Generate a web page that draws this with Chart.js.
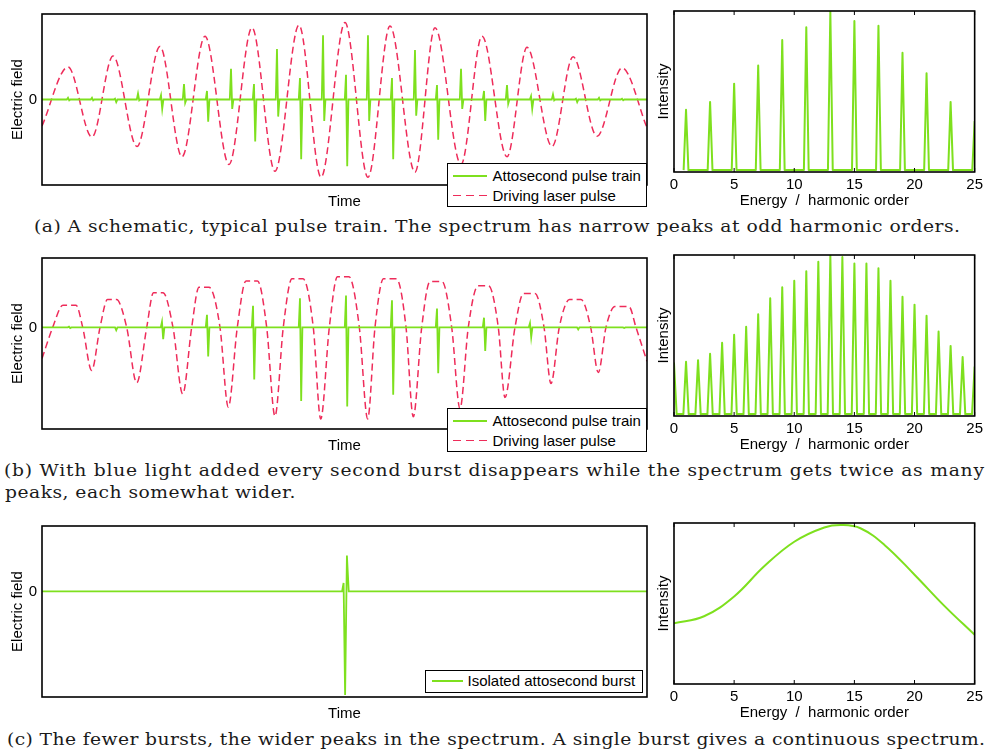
<!DOCTYPE html>
<html>
<head>
<meta charset="utf-8">
<script src="https://cdn.jsdelivr.net/npm/chart.js@4.4.1/dist/chart.umd.min.js"></script>
<style>
body { margin: 0; background: #fff; width: 987px; height: 751px; position: relative; overflow: hidden;
       font-family: "Liberation Sans", Arial, sans-serif; }
canvas { position: absolute; }
.legend { position: absolute; border: 1.5px solid #000; background: #fff; box-sizing: border-box; font-size: 15px; color: #000; }
.legend .row { position: absolute; left: 0; height: 20px; line-height: 20px; white-space: nowrap; }
.legend .smp { position: absolute; top: 9px; width: 34px; height: 2px; }
.legend .txt { position: absolute; top: 0; }
.solid { background: #7ee01e; }
.dash { background: repeating-linear-gradient(to right, #ee2c5a 0 8px, transparent 8px 13px); height: 1.5px !important; }
.cap { position: absolute; font-family: "DejaVu Serif", serif; font-size: 17px; line-height: 22px; white-space: nowrap;
       color: #1a1a1a; transform-origin: 0 50%; }
</style>
</head>
<body>
<canvas id="timeA" width="652" height="215" style="left:0;top:0"></canvas>
<canvas id="specA" width="335" height="215" style="left:652px;top:0"></canvas>
<canvas id="timeB" width="652" height="215" style="left:0;top:244px"></canvas>
<canvas id="specB" width="335" height="215" style="left:652px;top:244px"></canvas>
<canvas id="timeC" width="652" height="215" style="left:0;top:512px"></canvas>
<canvas id="specC" width="335" height="215" style="left:652px;top:512px"></canvas>

<div class="legend" style="left:447px;top:163px;width:200px;height:44px">
  <div class="row" style="top:1.5px"><div class="smp solid" style="left:4.5px"></div><span class="txt" style="left:44.5px">Attosecond pulse train</span></div>
  <div class="row" style="top:21.5px"><div class="smp dash" style="left:4.5px"></div><span class="txt" style="left:44.5px">Driving laser pulse</span></div>
</div>
<div class="legend" style="left:447px;top:408px;width:200px;height:44px">
  <div class="row" style="top:1.5px"><div class="smp solid" style="left:4.5px"></div><span class="txt" style="left:44.5px">Attosecond pulse train</span></div>
  <div class="row" style="top:21.5px"><div class="smp dash" style="left:4.5px"></div><span class="txt" style="left:44.5px">Driving laser pulse</span></div>
</div>
<div class="legend" style="left:425px;top:670px;width:218px;height:23px">
  <div class="row" style="top:0px"><div class="smp solid" style="left:5.5px;width:31px"></div><span class="txt" style="left:41.5px">Isolated attosecond burst</span></div>
</div>

<div class="cap" id="capA" style="left:34px;top:215px">(a) A schematic, typical pulse train. The spectrum has narrow peaks at odd harmonic orders.</div>
<div class="cap" id="capB1" style="left:4px;top:458.5px">(b) With blue light added every second burst disappears while the spectrum gets twice as many</div>
<div class="cap" id="capB2" style="left:5px;top:480.5px">peaks, each somewhat wider.</div>
<div class="cap" id="capC" style="left:7px;top:727.5px">(c) The fewer bursts, the wider peaks in the spectrum. A single burst gives a continuous spectrum.</div>

<script>
// time axis 0..100 (arbitrary units), field in arbitrary units
const laserA_t = [0, 4.30, 8.26, 11.74, 15.70, 19.50, 23.14, 26.94, 30.91, 34.71, 38.51, 42.48, 46.12, 50.08,
                  53.88, 57.52, 61.65, 64.96, 69.26, 72.73, 76.86, 80.17, 84.30, 87.77, 91.74, 95.87, 100];
const laserA_E = [-0.31, 0.38, -0.44, 0.51, -0.55, 0.62, -0.67, 0.74, -0.76, 0.84, -0.84, 0.87, -0.91, 0.90,
                  -0.91, 0.86, -0.85, 0.84, -0.76, 0.74, -0.67, 0.61, -0.55, 0.50, -0.43, 0.37, -0.33];

const burstA_t  = [4.30, 8.26, 12.07, 15.87, 19.67, 23.47, 27.27, 31.24, 35.04, 38.84, 42.64, 46.45, 50.25,
                   53.88, 57.85, 61.65, 65.29, 69.26, 73.06, 76.86, 80.83, 84.46, 88.26, 92.07, 95.87];
const burstA_up = [0.02, 0.02, 0.01, 0.07, 0.05, 0.18, 0.10, 0.36, 0.18, 0.59, 0.25, 0.75, 0.29,
                   0.75, 0.25, 0.58, 0.17, 0.36, 0.10, 0.17, 0.04, 0.06, 0.01, 0.02, 0.01];
const burstA_dn = [0.01, 0.01, 0.03, 0.01, 0.11, 0.04, 0.26, 0.11, 0.49, 0.20, 0.70, 0.25, 0.78,
                   0.25, 0.70, 0.19, 0.47, 0.11, 0.25, 0.05, 0.11, 0.01, 0.03, 0.01, 0.01];

const harmA = [1, 3, 5, 7, 9, 11, 13, 15, 17, 19, 21, 23, 25];
const specA = [0.38, 0.43, 0.545, 0.66, 0.82, 0.90, 1.0, 0.94, 0.91, 0.74, 0.61, 0.43, 0.31];

// two-colour field: flat-topped peaks, narrow troughs
const laserB_t = [0, 1.77, 3.47, 5.62, 6.73, 8.21, 9.59, 10.83, 12.31, 14.0, 15.65, 17.31, 18.43, 20.0,
                  21.65, 23.26, 24.74, 25.95, 27.60, 29.42, 30.79, 32.28, 33.72, 35.62, 37.14, 38.51,
                  39.88, 41.32, 43.14, 44.84, 46.07, 47.49, 48.84, 50.74, 52.45, 53.83, 55.04, 56.45,
                  58.60, 60.17, 61.37, 62.76, 64.13, 66.12, 67.72, 69.09, 70.46, 72.07, 73.80, 75.42,
                  76.53, 78.18, 79.59, 81.49, 82.98, 84.13, 85.50, 87.19, 89.09, 90.69, 91.95, 93.22,
                  94.71, 97.02, 98.18, 100];
const laserB_E = [-0.45, 0, 0.32, 0.32, 0, -0.62, 0, 0.40, 0.40, 0, -0.80, 0, 0.50, 0.50,
                  0, -0.96, 0, 0.58, 0.58, 0, -1.15, 0, 0.67, 0.67, 0, -1.28,
                  0, 0.70, 0.70, 0, -1.32, 0, 0.73, 0.73, 0, -1.32, 0, 0.70,
                  0.70, 0, -1.29, 0, 0.66, 0.66, 0, -1.17, 0, 0.60, 0.60, 0,
                  -1.01, 0, 0.49, 0.49, 0, -0.81, 0, 0.40, 0.40, 0, -0.65, 0,
                  0.30, 0.30, 0, -0.49];

const burstB_t  = [4.46, 12.07, 19.83, 27.27, 34.88, 42.64, 50.25, 57.85, 65.29, 73.06, 80.66, 88.43, 96.03];
const burstB_up = [0.01, 0.0, 0.08, 0.18, 0.31, 0.42, 0.46, 0.39, 0.27, 0.14, 0.06, 0.0, 0.0];
const burstB_dn = [0.01, 0.04, 0.17, 0.42, 0.75, 1.06, 1.14, 0.97, 0.66, 0.34, 0.14, 0.03, 0.01];

const harmB = [0, 1, 2, 3, 4, 5, 6, 7, 8, 9, 10, 11, 12, 13, 14, 15, 16, 17, 18, 19, 20, 21, 22, 23, 24, 25];
const specB = [0.32, 0.33, 0.34, 0.38, 0.45, 0.50, 0.55, 0.63, 0.73, 0.80, 0.84, 0.90, 0.96,
               1.0, 0.99, 0.95, 0.95, 0.92, 0.84, 0.74, 0.69, 0.62, 0.52, 0.43, 0.36, 0.30];

// single burst
const burstC_t = [0, 49.6, 49.85, 50.1, 50.4, 50.7, 100];
const burstC_E = [0, 0, 0.13, -1.58, 0.55, 0, 0];

// continuous spectrum of the single burst
const specC_h = [0, 2.5, 5, 7.5, 10, 12.5, 14, 15.5, 17.5, 20, 22.5, 25];
const specC_I = [0.371, 0.415, 0.54, 0.73, 0.885, 0.975, 0.99, 0.97, 0.865, 0.677, 0.479, 0.298];

const GREEN = '#7ee01e';
const RED = '#ee2c5a';
const SANS = '"Liberation Sans", Arial, sans-serif';

function xy(xs, ys) {
    return xs.map((x, i) => ({ x: x, y: ys[i] }));
}

function burstPoints(times, up, dn, w) {
    const pts = [{ x: 0, y: 0 }];
    times.forEach((t, i) => {
        pts.push({ x: t - w, y: 0 }, { x: t, y: up[i] }, { x: t + w, y: -dn[i] }, { x: t + 2 * w, y: 0 });
    });
    pts.push({ x: 100, y: 0 });
    return pts;
}

function peakPoints(orders, heights, w) {
    const pts = [];
    orders.forEach((h, i) => {
        pts.push({ x: h - w, y: 0 }, { x: h, y: heights[i] }, { x: h + w, y: 0 });
    });
    return pts;
}

// box around the plot area, with small inward ticks on the spectra
const framePlugin = {
    id: 'frame',
    afterDraw(chart, args, opts) {
        const ctx = chart.ctx;
        const a = chart.chartArea;
        ctx.save();
        ctx.strokeStyle = '#000';
        ctx.lineWidth = 1.6;
        ctx.strokeRect(a.left, a.top, a.right - a.left, a.bottom - a.top);
        if (opts.innerTicks) {
            const xs = chart.scales.x;
            ctx.lineWidth = 1;
            xs.ticks.forEach(t => {
                const px = xs.getPixelForValue(t.value);
                ctx.beginPath();
                ctx.moveTo(px, a.top); ctx.lineTo(px, a.top + 4);
                ctx.moveTo(px, a.bottom); ctx.lineTo(px, a.bottom - 4);
                ctx.stroke();
            });
        }
        ctx.restore();
    }
};

function timeChart(id, datasets, yMin) {
    return new Chart(document.getElementById(id), {
        type: 'line',
        data: { datasets: datasets },
        options: {
            responsive: false,
            animation: false,
            layout: { padding: { top: 10, right: 5, left: 0, bottom: 0 } },
            elements: { point: { radius: 0 } },
            plugins: { legend: { display: false }, tooltip: { enabled: false }, frame: { innerTicks: false } },
            scales: {
                x: {
                    type: 'linear', min: 0, max: 100,
                    grid: { display: false, drawTicks: false }, border: { display: false },
                    ticks: { display: false },
                    title: { display: true, text: 'Time', color: '#000', font: { size: 15, family: SANS }, padding: { top: 0, bottom: 4 } },
                    afterFit: s => { s.height = 30; }
                },
                y: {
                    min: yMin, max: 1,
                    grid: { display: false, drawTicks: false }, border: { display: false },
                    afterBuildTicks: s => { s.ticks = [{ value: 0 }]; },
                    ticks: { color: '#000', font: { size: 15, family: SANS }, padding: 5 },
                    title: { display: true, text: 'Electric field', color: '#000', font: { size: 15, family: SANS }, padding: { top: 9, bottom: 0 } },
                    afterFit: s => { s.width = 42; }
                }
            }
        },
        plugins: [framePlugin]
    });
}

function specChart(id, points, tension) {
    return new Chart(document.getElementById(id), {
        type: 'line',
        data: {
            datasets: [{
                data: points,
                borderColor: GREEN,
                borderWidth: 2,
                borderJoinStyle: 'round',
                tension: tension
            }]
        },
        options: {
            responsive: false,
            animation: false,
            layout: { padding: { top: 11, right: 12, left: 0, bottom: 0 } },
            elements: { point: { radius: 0 } },
            plugins: { legend: { display: false }, tooltip: { enabled: false }, frame: { innerTicks: true } },
            scales: {
                x: {
                    type: 'linear', min: 0, max: 25,
                    grid: { display: false, drawTicks: false }, border: { display: false },
                    ticks: { stepSize: 5, color: '#000', font: { size: 15, family: SANS }, padding: 4, maxRotation: 0 },
                    title: { display: true, text: 'Energy  /  harmonic order', color: '#000', font: { size: 15, family: SANS }, padding: { top: 0, bottom: 5 } },
                    afterFit: s => { s.height = 43; }
                },
                y: {
                    min: -0.012, max: 1.003,
                    grid: { display: false, drawTicks: false }, border: { display: false },
                    ticks: { display: false },
                    title: { display: true, text: 'Intensity', color: '#000', font: { size: 15, family: SANS }, padding: { top: 3, bottom: 0 } },
                    afterFit: s => { s.width = 22; }
                }
            }
        },
        plugins: [framePlugin]
    });
}

function pulseSet(points) {
    return { data: points, borderColor: GREEN, borderWidth: 1.8, tension: 0, order: 0 };
}
function laserSet(points) {
    return { data: points, borderColor: RED, borderWidth: 1.5, borderDash: [7, 4],
             cubicInterpolationMode: 'monotone', order: 1 };
}

timeChart('timeA', [
    pulseSet(burstPoints(burstA_t, burstA_up, burstA_dn, 0.2)),
    laserSet(xy(laserA_t, laserA_E))
], -1);
specChart('specA', peakPoints(harmA, specA, 0.2), 0);

timeChart('timeB', [
    pulseSet(burstPoints(burstB_t, burstB_up, burstB_dn, 0.2)),
    laserSet(xy(laserB_t, laserB_E))
], -1.465);
specChart('specB', peakPoints(harmB, specB, 0.22), 0);

timeChart('timeC', [pulseSet(xy(burstC_t, burstC_E))], -1.612);
specChart('specC', xy(specC_h, specC_I), 0.4);

// widen caption lines to the widths of the typeset original
const STRETCH = 1.1;
function fitLine(id, target) {
    const el = document.getElementById(id);
    const w = el.getBoundingClientRect().width;
    const ls = (target / STRETCH - w) / (el.textContent.length - 1);
    el.style.letterSpacing = ls + 'px';
    el.style.transform = 'scaleX(' + STRETCH + ')';
    return ls;
}
const natural = fitLine('capA', 926);
fitLine('capB1', 980);
const b2 = document.getElementById('capB2');
b2.style.letterSpacing = natural + 'px';
b2.style.transform = 'scaleX(' + STRETCH + ')';
fitLine('capC', 978);
</script>
</body>
</html>
